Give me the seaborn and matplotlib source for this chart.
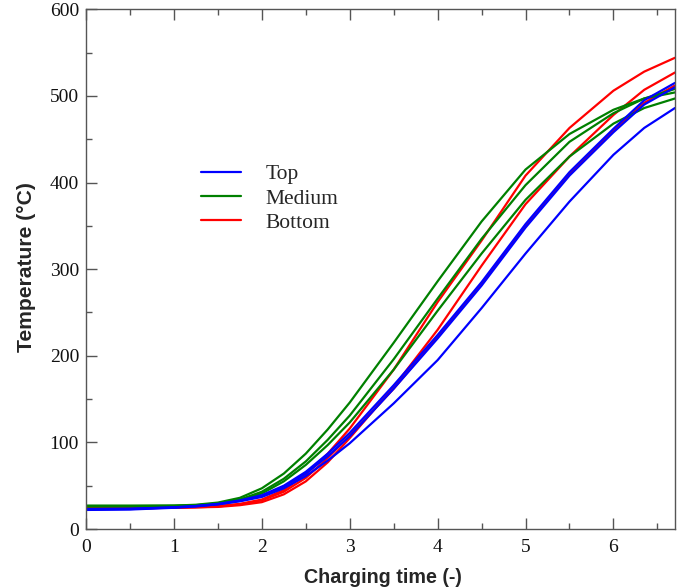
import matplotlib
matplotlib.use("Agg")
import matplotlib.pyplot as plt
from matplotlib.lines import Line2D
from matplotlib.ticker import MultipleLocator
import seaborn as sns
import pandas as pd

# Charging time grid (-)
time = [0, 0.5, 1, 1.25, 1.5, 1.75, 2, 2.25, 2.5, 2.75, 3, 3.5, 4, 4.5, 5, 5.5, 6, 6.35, 6.7]

# Temperature (°C) curves
top_1 = [23, 23.5, 25, 26.5, 29, 33, 39, 50, 66, 87, 111, 166, 224, 285, 352, 412, 462, 495, 515]
top_2 = [22.5, 23, 25, 26.5, 28.5, 32.5, 38, 49, 64, 84, 107, 162, 220, 281, 348, 408, 458, 490, 510]
top_3 = [22, 22.5, 24.5, 26, 28.5, 32, 37, 47, 61, 79, 99, 145, 195, 255, 318, 378, 432, 463, 486]

medium_1 = [27, 27, 27, 28, 30.5, 36, 47, 64, 87, 115, 146, 215, 286, 355, 415, 456, 484, 497, 504]
medium_2 = [26.5, 26.5, 27, 27.5, 29.5, 34, 43, 58, 78, 103, 131, 196, 266, 335, 397, 447, 480, 497, 508]
medium_3 = [26, 26, 26.5, 27, 29, 33, 41, 55, 74, 97, 123, 184, 252, 318, 380, 430, 468, 486, 497]

bottom_1 = [24.5, 24.5, 25, 25.5, 26.5, 29, 34, 45, 63, 87, 116, 184, 262, 333, 408, 463, 506, 528, 544]
bottom_2 = [23.5, 24, 24.5, 25, 25.5, 27.5, 31, 40, 55, 77, 105, 164, 230, 304, 375, 430, 478, 507, 527]
bottom_3 = [24, 24, 24.5, 25, 26, 28.5, 33, 43, 59, 82, 108, 162, 222, 283, 350, 410, 460, 492, 512]

positions = ["Top", "Medium", "Bottom"]
colors = {"Top": "#0000ff", "Medium": "#008000", "Bottom": "#ff0000"}
curves = {
    "Top": [top_1, top_2, top_3],
    "Medium": [medium_1, medium_2, medium_3],
    "Bottom": [bottom_1, bottom_2, bottom_3],
}

rows = []
for pos, series in curves.items():
    for i, vals in enumerate(series):
        for t, v in zip(time, vals):
            rows.append({"time": t, "temp": v, "position": pos, "curve": f"{pos}{i}"})
df = pd.DataFrame(rows)

sns.set_theme(style="white")
serif = ["Liberation Serif", "DejaVu Serif"]
sans = ["Liberation Sans", "DejaVu Sans"]

fig = plt.figure(figsize=(6.91, 5.87), dpi=100)
ax = fig.add_axes([0.1245, 0.0988, 0.8523, 0.8854])

# draw order: red, green, blue on top
for pos in ["Bottom", "Medium", "Top"]:
    sub = df[df["position"] == pos]
    sns.lineplot(data=sub, x="time", y="temp", units="curve", estimator=None,
                 color=colors[pos], linewidth=1.6, ax=ax, legend=False)

ax.set_xlim(0, 6.7)
ax.set_ylim(0, 600)
ax.xaxis.set_major_locator(MultipleLocator(1))
ax.xaxis.set_minor_locator(MultipleLocator(0.5))
ax.yaxis.set_major_locator(MultipleLocator(100))
ax.yaxis.set_minor_locator(MultipleLocator(50))
ax.tick_params(axis="both", which="major", direction="in", length=8, width=1,
               color="#555555", labelsize=14)
ax.tick_params(axis="x", which="major", pad=7)
ax.tick_params(axis="y", which="major", pad=5)
ax.tick_params(axis="both", which="minor", direction="in", length=4, width=1,
               color="#555555")
ax.tick_params(axis="x", which="both", top=True, bottom=True)
ax.tick_params(axis="y", which="both", left=True, right=False)
for lab in ax.get_xticklabels() + ax.get_yticklabels():
    lab.set_family(serif)
    lab.set_color("#111111")
for s in ax.spines.values():
    s.set_color("#555555")
    s.set_linewidth(1)

ax.set_xlabel("Charging time (-)", family=sans, fontweight="bold", fontsize=14.2)
ax.set_ylabel("Temperature (°C)", family=sans, fontweight="bold", fontsize=15.2)
ax.xaxis.label.set_verticalalignment("center")
ax.yaxis.label.set_verticalalignment("center")
ax.xaxis.set_label_coords(0.504, -0.0925)
ax.yaxis.set_label_coords(-0.1007, 0.504)

handles = [Line2D([0], [0], color=colors[p], lw=1.6) for p in positions]
leg = ax.legend(handles, positions, loc="upper left", bbox_to_anchor=(0.1764, 0.7227),
                frameon=False, borderpad=0, handlelength=1.86, handletextpad=1.16,
                labelspacing=0.2, prop={"family": serif, "size": 15.5})

fig.savefig("out.png", dpi=100)
